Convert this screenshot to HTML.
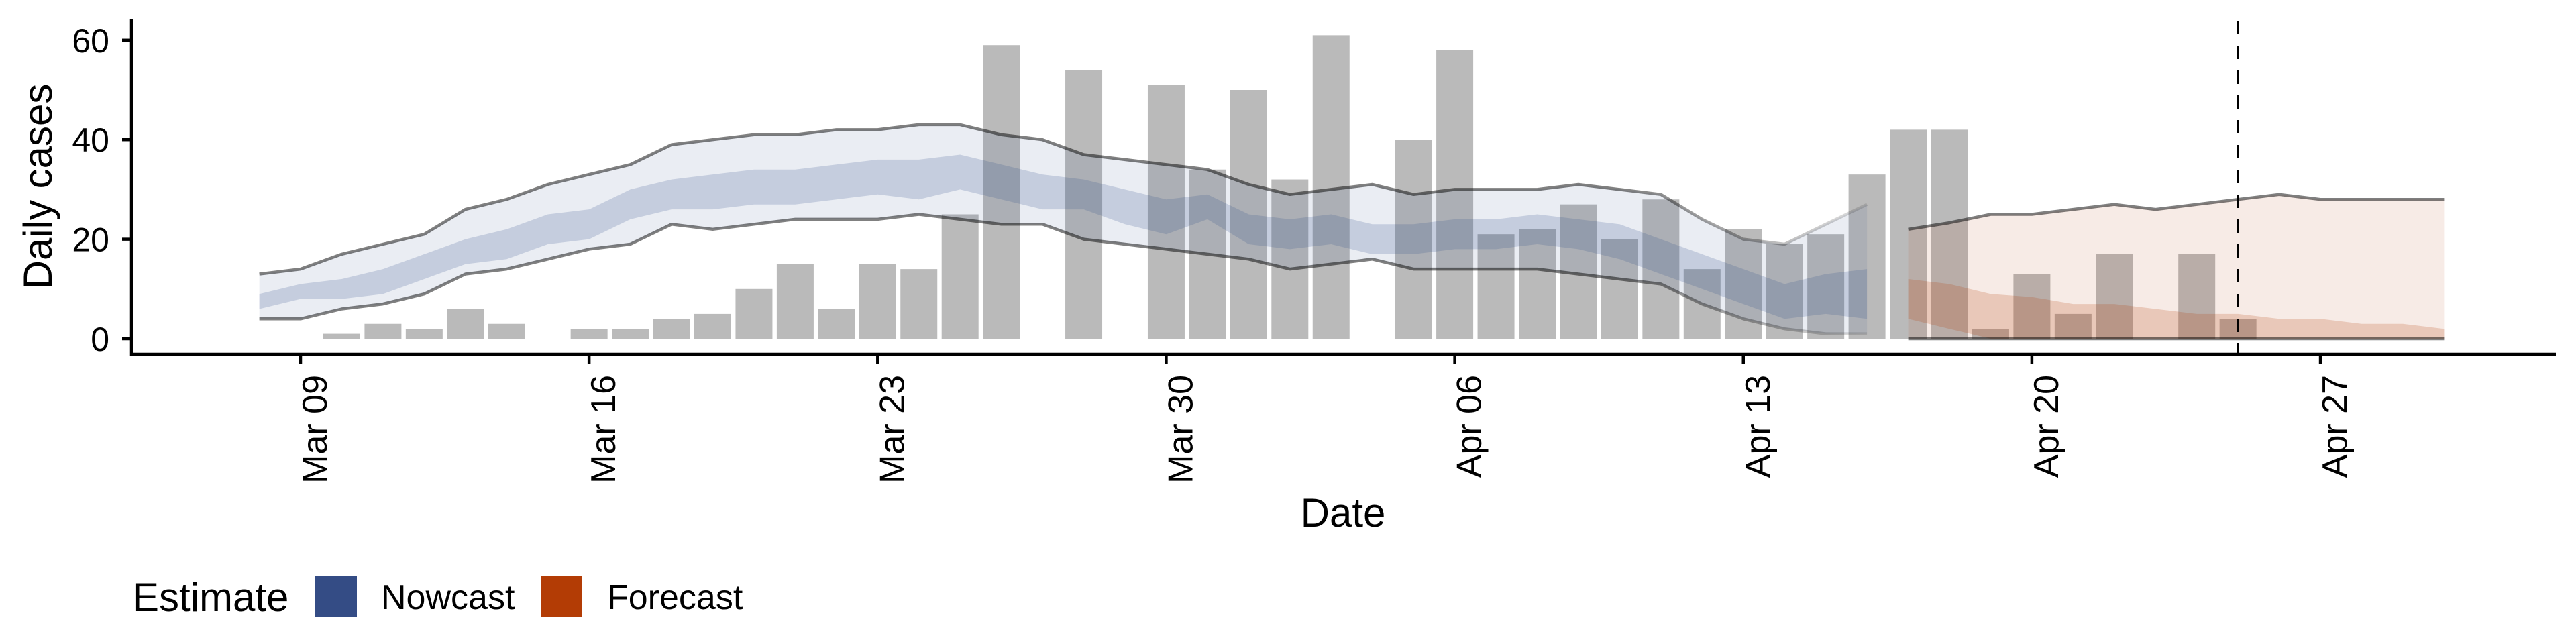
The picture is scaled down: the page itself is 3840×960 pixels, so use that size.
<!DOCTYPE html>
<html><head><meta charset="utf-8"><style>
html,body{margin:0;padding:0;background:#fff;}
svg{display:block;font-family:"Liberation Sans",Arial,sans-serif;}
</style></head><body>
<svg id="chart" width="3840" height="960" viewBox="0 0 3840 960" xmlns="http://www.w3.org/2000/svg">
<defs>
<linearGradient id="fadeGrad" gradientUnits="userSpaceOnUse" x1="2414" y1="0" x2="2784" y2="0">
<stop offset="0" stop-color="#000" stop-opacity="0.5"/>
<stop offset="1" stop-color="#000" stop-opacity="0.12"/>
</linearGradient>
</defs>
</svg>
<script>
// ---- data ----
const tickLabels = ["Mar 09","Mar 16","Mar 23","Mar 30","Apr 06","Apr 13","Apr 20","Apr 27"];
const tickDays = [0,7,14,21,28,35,42,49];
const yTicks = [0,20,40,60];
const barStartDay = 1;
const caseCounts = [1,3,2,6,3,0,2,2,4,5,10,15,6,15,14,25,59,0,54,0,51,34,50,32,61,0,40,58,21,22,27,20,28,14,22,19,21,33,42,42,2,13,5,17,0,17,4];
const nowStartDay = -1;
const nowUpper = [13,14,17,19,21,26,28,31,33,35,39,40,41,41,42,42,43,43,41,40,37,36,35,34,31,29,30,31,29,30,30,30,31,30,29,24,20,19,23,27];
const nowLower = [4,4,6,7,9,13,14,16,18,19,23,22,23,24,24,24,25,24,23,23,20,19,18,17,16,14,15,16,14,14,14,14,13,12,11,7,4,2,1,1];
const nowInnerUpper = [9,11,12,14,17,20,22,25,26,30,32,33,34,34,35,36,36,37,35,33,32,30,28,29,25,24,25,23,23,24,24,25,24,23,20,17,14,11,13,14];
const nowInnerLower = [6,8,8,9,12,15,16,19,20,24,26,26,27,27,28,29,28,30,28,26,26,23,21,24,19,18,19,17,17,18,18,19,18,16,13,10,7,4,5,4];
const fcStartDay = 39;
const fcUpper = [22,23.3,25,25,26,27,26,27,28,29,28,28,28,28];
const fcLower = [0,0,0,0,0,0,0,0,0,0,0,0,0,0];
const fcInnerUpper = [12,11,9,8.4,7,7,6,5,5,4,4,3,3,2];
const fcInnerLower = [4,2,0,0,0,0,0,0,0,0,0,0,0,0];
const forecastDateDay = 47;

// ---- scales ----
const X0 = 448, PXDAY = 61.45, Y0 = 505, PXUNIT = 7.42;
const AX_L = 196, AX_R = 3810, AX_B = 528, AX_T = 29;
function xs(d){ return X0 + d*PXDAY; }
function ys(v){ return Y0 - v*PXUNIT; }

const NS = "http://www.w3.org/2000/svg";
const svg = document.getElementById('chart');
function mk(tag, attrs, parent){
  const e = document.createElementNS(NS, tag);
  for (const k in attrs) e.setAttribute(k, attrs[k]);
  (parent||svg).appendChild(e);
  return e;
}

// bars
const barsG = mk('g', {});


caseCounts.forEach((v,i)=>{
  if (v<=0) return;
  const d = barStartDay + i;
  const r = mk('rect', {x: xs(d)-27.5, y: ys(v), width: 55, height: v*PXUNIT, fill: '#bababa'}, barsG);
  
  
});

function ribbon(start, up, lo, fill, name){
  let p = '';
  up.forEach((v,i)=>{ p += (i?'L':'M') + xs(start+i).toFixed(1) + ',' + ys(v).toFixed(1); });
  for (let i=lo.length-1;i>=0;i--) p += 'L' + xs(start+i).toFixed(1) + ',' + ys(lo[i]).toFixed(1);
  const e = mk('path', {d: p+'Z', fill: fill});
  
  
}
function line(start, vals, name, fade){
  const pts = vals.map((v,i)=> xs(start+i).toFixed(1)+','+ys(v).toFixed(1)).join(' ');
  const attrs = {points: pts, fill:'none', 'stroke-width': 4.5, 'stroke-linejoin':'round'};
  if (fade) { attrs.stroke = 'url(#fadeGrad)'; }
  else { attrs.stroke = '#000'; attrs['stroke-opacity'] = 0.5; }
  const e = mk('polyline', attrs);
  
  
}
ribbon(nowStartDay, nowUpper, nowLower, 'rgba(52,80,140,0.1)', 'nowcast-outer-band');
ribbon(nowStartDay, nowInnerUpper, nowInnerLower, 'rgba(52,80,140,0.2)', 'nowcast-inner-band');
ribbon(fcStartDay, fcUpper, fcLower, 'rgba(179,60,5,0.1)', 'forecast-outer-band');
ribbon(fcStartDay, fcInnerUpper, fcInnerLower, 'rgba(179,60,5,0.2)', 'forecast-inner-band');
line(nowStartDay, nowUpper, 'nowcast-upper-line', true);
line(nowStartDay, nowLower, 'nowcast-lower-line', true);
line(fcStartDay, fcUpper, 'forecast-upper-line', false);
line(fcStartDay, fcLower, 'forecast-lower-line', false);

// dashed forecast date line
const dl = mk('line', {x1: xs(forecastDateDay), x2: xs(forecastDateDay), y1: 31, y2: AX_B, stroke:'#000', 'stroke-width':3.5, 'stroke-dasharray':'20 17'});



// axes
const ya = mk('line', {x1: AX_L, x2: AX_L, y1: AX_T, y2: AX_B+2, stroke:'#000', 'stroke-width':4.5});


const xa = mk('line', {x1: AX_L-2, x2: AX_R, y1: AX_B, y2: AX_B, stroke:'#000', 'stroke-width':4.5});



yTicks.forEach(v=>{
  mk('line', {x1: AX_L-14, x2: AX_L, y1: ys(v), y2: ys(v), stroke:'#000', 'stroke-width':4.5});
  const t = mk('text', {x: 163, y: ys(v)+18, 'text-anchor':'end', 'font-size':50, fill:'#000'});
  t.textContent = v;
  
  
});
tickDays.forEach((d,i)=>{
  const x = xs(d);
  mk('line', {x1: x, x2: x, y1: AX_B, y2: AX_B+14, stroke:'#000', 'stroke-width':4.5});
  const t = mk('text', {x: 0, y: 0, 'text-anchor':'end', 'font-size':52, fill:'#000', transform: 'translate('+(x+39)+',559) rotate(-90)'});
  t.textContent = tickLabels[i];
  
  
});

const yt = mk('text', {x:0, y:0, 'text-anchor':'middle', 'font-size':60, fill:'#000', transform:'translate(77,278) rotate(-90)'});
yt.textContent = 'Daily cases';


const xt = mk('text', {x: 2002, y: 785, 'text-anchor':'middle', 'font-size':60, fill:'#000'});
xt.textContent = 'Date';



// legend
const lg = mk('g', {});


const lt = mk('text', {x:197, y:911, 'font-size':60, fill:'#000'}, lg);
lt.textContent = 'Estimate';


const s1 = mk('rect', {x:470, y:859, width:62, height:61, fill:'#344c85'}, lg);


const t1 = mk('text', {x:568, y:908, 'font-size':52, fill:'#000'}, lg);
t1.textContent = 'Nowcast';


const s2 = mk('rect', {x:806, y:859, width:62, height:61, fill:'#b33c05'}, lg);


const t2 = mk('text', {x:905, y:908, 'font-size':52, fill:'#000'}, lg);
t2.textContent = 'Forecast';


</script>
</body></html>
